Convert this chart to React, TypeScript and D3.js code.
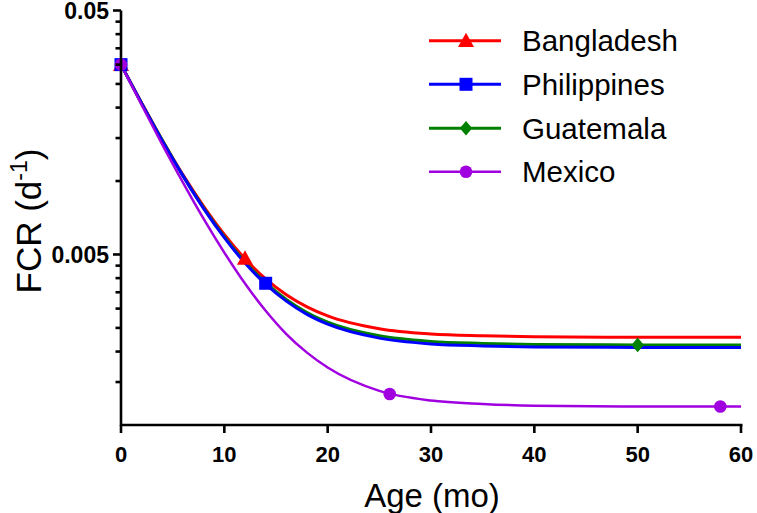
import React from "react";
import * as d3 from "d3";

const ages = [0, 2, 4, 6, 8, 10, 12, 14, 16, 18, 20, 25, 30, 35, 40, 50, 60];
const bangladesh = [0.03, 0.0209, 0.0147, 0.0106, 0.00788, 0.00604, 0.0048, 0.00397, 0.00342, 0.00305, 0.0028, 0.00248, 0.00236, 0.00232, 0.0023, 0.00229, 0.00229];
const philippines = [0.03, 0.0208, 0.0146, 0.0105, 0.00771, 0.00586, 0.00461, 0.00378, 0.00322, 0.00284, 0.00259, 0.00227, 0.00215, 0.00211, 0.00209, 0.00208, 0.00208];
const guatemala = [0.03, 0.0208, 0.0147, 0.0105, 0.00776, 0.00591, 0.00466, 0.00383, 0.00327, 0.00289, 0.00264, 0.00232, 0.0022, 0.00216, 0.00214, 0.00213, 0.00213];
const mexico = [0.03, 0.0205, 0.0141, 0.00986, 0.007, 0.00509, 0.0038, 0.00294, 0.00236, 0.00198, 0.00172, 0.00138, 0.00126, 0.00122, 0.0012, 0.00119, 0.00119];

const bangladeshMarkAges = [0, 12];
const bangladeshMarkVals = [0.03, 0.00482];
const philippinesMarkAges = [0, 14];
const philippinesMarkVals = [0.03, 0.00381];
const guatemalaMarkAges = [0, 50];
const guatemalaMarkVals = [0.03, 0.00213];
const mexicoMarkAges = [0, 26, 58];
const mexicoMarkVals = [0.03, 0.00134, 0.00119];

const xTicks = [0, 10, 20, 30, 40, 50, 60];
const yMajor = [0.005, 0.05];
const yMajorLabels = ["0.005", "0.05"];
const yMinor = [0.0015, 0.002, 0.0025, 0.003, 0.0035, 0.004, 0.0045, 0.01, 0.015, 0.02, 0.025, 0.03, 0.035, 0.04, 0.045];

const FONT = "Arial, 'Liberation Sans', Helvetica, sans-serif";

type Series = {
  name: string;
  color: string;
  width: number;
  shape: string;
  values: number[];
  markAges: number[];
  markVals: number[];
};

const series: Series[] = [
  { name: "Bangladesh", color: "#FF0000", width: 3, shape: "triangle", values: bangladesh, markAges: bangladeshMarkAges, markVals: bangladeshMarkVals },
  { name: "Guatemala", color: "#008000", width: 3, shape: "diamond", values: guatemala, markAges: guatemalaMarkAges, markVals: guatemalaMarkVals },
  { name: "Philippines", color: "#0000FF", width: 3, shape: "square", values: philippines, markAges: philippinesMarkAges, markVals: philippinesMarkVals },
  { name: "Mexico", color: "#A000E0", width: 2.5, shape: "circle", values: mexico, markAges: mexicoMarkAges, markVals: mexicoMarkVals },
];
const legendOrder = ["Bangladesh", "Philippines", "Guatemala", "Mexico"];

function Marker({ shape, x, y, color }: { shape: string; x: number; y: number; color: string }) {
  if (shape === "triangle") {
    const s = 8;
    return <path d={`M${x},${y - s}L${x + s},${y + s * 0.8}L${x - s},${y + s * 0.8}Z`} fill={color} />;
  }
  if (shape === "square") {
    const s = 6.5;
    return <rect x={x - s} y={y - s} width={2 * s} height={2 * s} fill={color} />;
  }
  if (shape === "diamond") {
    const s = 7.3;
    return <path d={`M${x},${y - s}L${x + s * 0.85},${y}L${x},${y + s}L${x - s * 0.85},${y}Z`} fill={color} />;
  }
  return <circle cx={x} cy={y} r={6.3} fill={color} />;
}

export default function App() {
  const x = d3.scaleLinear().domain([0, 60]).range([121, 741]);
  const y = d3.scaleLog().domain([0.001, 0.05]).range([425, 10.5]);
  const line = d3
    .line<number>()
    .x((_, i) => x(ages[i]))
    .y((d) => y(d))
    .curve(d3.curveMonotoneX);

  const legendY = [40.7, 84.3, 128.3, 171.7];

  return (
    <svg width={757} height={513} style={{ position: "absolute", left: 0, top: 0, background: "#fff" }}>
      <rect x={0} y={0} width={757} height={513} fill="#fff" />
      {series.map((s) => (
        <path key={s.name} d={line(s.values) || ""} fill="none" stroke={s.color} strokeWidth={s.width} />
      ))}
      {series.map((s) =>
        s.markAges.map((a, i) => (
          <Marker key={s.name + i} shape={s.shape} x={x(a)} y={y(s.markVals[i])} color={s.color} />
        ))
      )}
      <line x1={121} x2={121} y1={y(0.05)} y2={426} stroke="#000" strokeWidth={2.6} />
      <line x1={120} x2={742.5} y1={425} y2={425} stroke="#000" strokeWidth={2.6} />
      {xTicks.map((t) => (
        <g key={"xt" + t}>
          <line x1={x(t)} x2={x(t)} y1={425} y2={433} stroke="#000" strokeWidth={2.6} />
          <text x={x(t)} y={462} textAnchor="middle" fontFamily={FONT} fontWeight="bold" fontSize={22}>
            {t}
          </text>
        </g>
      ))}
      {yMajor.map((v, i) => (
        <g key={"ym" + v}>
          <line x1={113} x2={121} y1={y(v)} y2={y(v)} stroke="#000" strokeWidth={2.6} />
          <text x={109} y={y(v)} dy="0.36em" textAnchor="end" fontFamily={FONT} fontWeight="bold" fontSize={23}>
            {yMajorLabels[i]}
          </text>
        </g>
      ))}
      {yMinor.map((v) => (
        <line key={"yn" + v} x1={115.5} x2={121} y1={y(v)} y2={y(v)} stroke="#000" strokeWidth={2.6} />
      ))}
      <text x={432} y={507} textAnchor="middle" fontFamily={FONT} fontSize={33}>
        Age (mo)
      </text>
      <text
        transform="translate(41,221) rotate(-90)"
        textAnchor="middle"
        fontFamily={FONT}
        fontSize={35}
      >
        FCR (d
        <tspan fontSize={23} dy={-14}>-1</tspan>
        <tspan dy={14}>)</tspan>
      </text>
      {legendOrder.map((name, i) => {
        const s = series.find((d) => d.name === name)!;
        const ly = legendY[i];
        return (
          <g key={"lg" + name}>
            <line x1={429} x2={501} y1={ly} y2={ly} stroke={s.color} strokeWidth={s.width} />
            <Marker shape={s.shape} x={466} y={ly} color={s.color} />
            <text x={522} y={ly} dy="0.36em" fontFamily={FONT} fontSize={29.5}>
              {name}
            </text>
          </g>
        );
      })}
    </svg>
  );
}
